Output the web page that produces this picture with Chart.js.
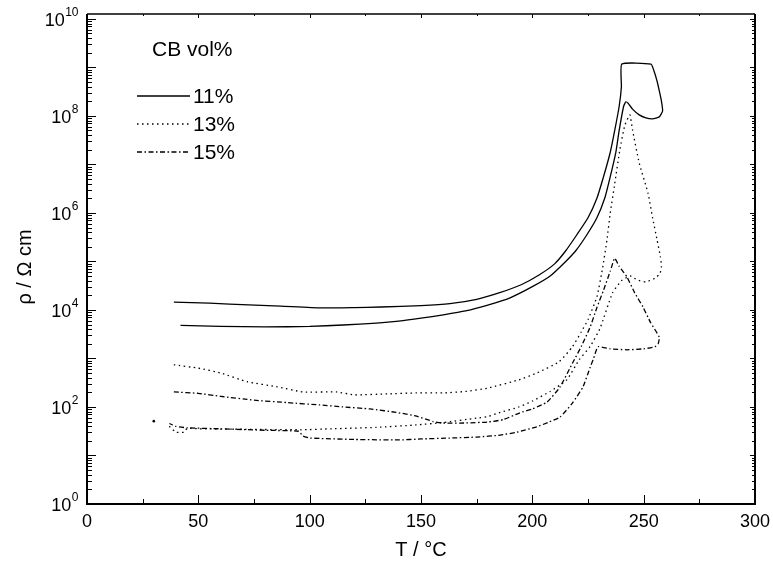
<!DOCTYPE html>
<html>
<head>
<meta charset="utf-8">
<script src="https://cdn.jsdelivr.net/npm/chart.js@4/dist/chart.umd.min.js"></script>
<style>
  body { margin: 0; background: #fff; }
  #wrap { width: 773px; height: 565px; }
</style>
</head>
<body>
<div id="wrap"><canvas id="chart" width="773" height="565"></canvas></div>
<script>
// CB 11 vol% (one loop: upper branch -> top -> hook -> lower branch)
var t11 = [39, 55, 64, 87, 105, 120, 132, 150, 163, 175, 185, 195, 203, 210, 215, 220, 225, 229, 232, 235, 237, 239, 240, 240.2,
           253.3, 254.6, 256, 257, 258, 258.5, 257, 254, 251, 248, 245, 243, 242,
           241, 239, 237.5, 235, 232.5, 229, 224.5, 219.5, 215, 208, 200, 190, 180, 170, 160, 150, 140, 130, 115, 100, 80, 60, 42];
var rho11 = [1.45e4, 1.38e4, 1.32e4, 1.2e4, 1.1e4, 1.12e4, 1.15e4, 1.23e4, 1.35e4, 1.66e4, 2.24e4, 3.31e4, 5.25e4, 8.91e4, 1.66e5, 3.55e5, 7.94e5, 2.0e6, 5.62e6, 1.78e7, 5.01e7, 1.58e8, 3.98e8, 1.17e9,
             1.17e9, 8.51e8, 5.25e8, 3.31e8, 2.0e8, 1.26e8, 9.55e7, 8.71e7, 9.12e7, 1.05e8, 1.38e8, 1.82e8, 1.95e8,
             1.58e8, 5.01e7, 1.78e7, 5.62e6, 2.0e6, 7.94e5, 3.55e5, 1.66e5, 1.0e5, 5.01e4, 3.02e4, 1.78e4, 1.26e4, 9.55e3, 7.94e3, 6.76e3, 5.89e3, 5.37e3, 4.9e3, 4.57e3, 4.47e3, 4.57e3, 4.79e3];

// CB 13 vol%
var t13 = [39, 50, 60, 72, 85, 97, 112, 120, 135, 148, 160, 170, 180, 194, 202, 212, 218, 222, 225, 229, 231.5, 233.5, 235, 237, 239.3, 241.5, 243.8,
           245, 248, 252, 254, 256, 257.5, 258, 257.3, 255, 251, 247, 244, 240, 236,
           230.4, 226, 221, 215.5, 208, 200, 194, 185, 180, 175, 160, 148, 130, 110, 96, 70, 50, 45, 43.5, 40, 37, 36];
var rho13 = [741, 631, 501, 331, 263, 204, 204, 178, 186, 195, 195, 209, 245, 363, 501, 851, 1.74e3, 3.55e3, 6.31e3, 1.86e4, 7.08e4, 2.75e5, 1.0e6, 3.98e6, 2.0e7, 6.31e7, 1.05e8,
             5.13e7, 1.07e7, 2.51e6, 7.94e5, 2.82e5, 1.26e5, 7.94e4, 5.62e4, 4.47e4, 3.8e4, 4.17e4, 5.01e4, 3.98e4, 2.24e4,
             4.17e3, 1.78e3, 933, 363, 209, 132, 100, 75.9, 63.1, 58.9, 47.9, 42.7, 38.0, 35.5, 33.9, 34.7, 35.5, 36.3, 30.2, 30.2, 39.8, 42.7];

// CB 15 vol%
var t15 = [39, 50, 60, 75, 90, 104.6, 115, 127, 140, 148, 155.5, 160, 170, 180, 187, 194.4, 200, 206.6, 212.4, 218, 222, 226, 229, 232, 235, 237,
           239, 242.5, 246, 249.7, 253, 257, 256.5, 255, 250, 242.5, 235, 229.5,
           227.5, 226, 222.7, 218, 212.4, 207, 202, 193, 185.5, 175, 163, 150, 140, 120, 100, 97, 95, 80, 60, 45, 40, 37];
var rho15 = [204, 191, 166, 138, 123, 110, 100, 91.2, 75.9, 64.6, 50.1, 46.8, 46.8, 49.0, 55.0, 75.9, 91.2, 126, 257, 794, 1.78e3, 4.47e3, 1.12e4, 2.57e4, 6.31e4, 1.17e5,
             7.94e4, 4.79e4, 2.24e4, 1.15e4, 5.62e3, 2.75e3, 2.0e3, 1.74e3, 1.58e3, 1.51e3, 1.58e3, 1.74e3,
             1.0e3, 661, 257, 120, 61.7, 47.9, 38.9, 30.2, 26.3, 24.0, 22.9, 21.9, 20.9, 21.4, 22.9, 25.1, 31.6, 33.1, 35.5, 37.2, 39.8, 45.7];

// lone point at the far left
var strayT = [30];
var strayRho = [51];

var seriesNames = ['11%', '13%', '15%'];
var xTicks = [0, 50, 100, 150, 200, 250, 300];
var yTickExp = [0, 2, 4, 6, 8, 10];

var FONT = '"Liberation Sans", Arial, Helvetica, sans-serif';
var dashes = [[], [1.5, 3.5], [5, 2.5, 1.5, 2.5]];

function pts(ts, rs) {
    return ts.map(function (t, i) { return { x: t, y: rs[i] }; });
}

var frame = {
    id: 'frame',
    afterDraw: function (chart) {
        var ctx = chart.ctx, a = chart.chartArea;
        var xs = chart.scales.x, ys = chart.scales.y;
        ctx.save();
        ctx.strokeStyle = '#000';
        ctx.fillStyle = '#000';
        ctx.setLineDash([]);

        // log ticks on left and right
        ctx.lineWidth = 1;
        for (var k = 0; k <= 10; k++) {
            var py = Math.round(ys.getPixelForValue(Math.pow(10, k))) + 0.5;
            ctx.beginPath();
            ctx.moveTo(a.left, py); ctx.lineTo(a.left + 9, py);
            ctx.moveTo(a.right, py); ctx.lineTo(a.right - 5, py);
            ctx.stroke();
            if (k == 10) continue;
            for (var m = 2; m <= 9; m++) {
                var my = Math.round(ys.getPixelForValue(m * Math.pow(10, k))) + 0.5;
                ctx.beginPath();
                ctx.moveTo(a.left, my); ctx.lineTo(a.left + 5, my);
                ctx.moveTo(a.right, my); ctx.lineTo(a.right - 3, my);
                ctx.stroke();
            }
        }

        // x ticks bottom and top
        for (var t = 0; t <= 300; t += 25) {
            var px = Math.round(xs.getPixelForValue(t)) + 0.5;
            var major = (t % 50 == 0);
            ctx.beginPath();
            ctx.moveTo(px, a.bottom); ctx.lineTo(px, a.bottom - (major ? 9 : 5));
            ctx.moveTo(px, a.top); ctx.lineTo(px, a.top + (major ? 4 : 2));
            ctx.stroke();
        }

        // frame
        ctx.lineWidth = 2;
        ctx.beginPath();
        ctx.moveTo(a.left, a.top); ctx.lineTo(a.left, a.bottom); ctx.lineTo(a.right, a.bottom); ctx.lineTo(a.right, a.top);
        ctx.stroke();
        ctx.lineWidth = 1.5;
        ctx.beginPath();
        ctx.moveTo(a.left, a.top); ctx.lineTo(a.right, a.top);
        ctx.stroke();

        // x labels
        ctx.font = '18px ' + FONT;
        ctx.textAlign = 'center';
        ctx.textBaseline = 'middle';
        xTicks.forEach(function (v) {
            ctx.fillText(String(v), xs.getPixelForValue(v), a.bottom + 18);
        });

        // y labels 10^n
        yTickExp.forEach(function (e) {
            var py = ys.getPixelForValue(Math.pow(10, e));
            ctx.font = '12px ' + FONT;
            var ew = ctx.measureText(String(e)).width;
            ctx.font = '18px ' + FONT;
            var bw = ctx.measureText('10').width;
            var x0 = 78 - ew - bw;
            ctx.textAlign = 'left';
            ctx.fillText('10', x0, py + 2);
            ctx.font = '12px ' + FONT;
            ctx.fillText(String(e), x0 + bw + 0.5, py - 6);
        });

        // axis titles
        ctx.font = '20px ' + FONT;
        ctx.textAlign = 'center';
        ctx.fillText('T / °C', 421, 550);
        ctx.save();
        ctx.translate(25, 267);
        ctx.rotate(-Math.PI / 2);
        ctx.fillText('ρ / Ω cm', 0, 0);
        ctx.restore();

        // legend in the plot
        ctx.font = '21px ' + FONT;
        ctx.textAlign = 'left';
        ctx.fillText('CB vol%', 152, 50);
        var ly = [96, 124, 152];
        seriesNames.forEach(function (n, i) {
            ctx.lineWidth = 1.3;
            ctx.setLineDash(dashes[i]);
            ctx.beginPath();
            ctx.moveTo(137, ly[i]); ctx.lineTo(190, ly[i]);
            ctx.stroke();
            ctx.setLineDash([]);
            ctx.fillText(n, 193, ly[i] + 1);
        });
        ctx.restore();
    }
};

var ctx = document.getElementById('chart').getContext('2d');
var chart = new Chart(ctx, {
    type: 'line',
    data: {
        datasets: [
            { label: seriesNames[0], data: pts(t11, rho11), borderColor: '#000', borderWidth: 1.3, borderDash: dashes[0], pointRadius: 0, tension: 0.15, fill: false },
            { label: seriesNames[1], data: pts(t13, rho13), borderColor: '#000', borderWidth: 1.3, borderDash: dashes[1], pointRadius: 0, tension: 0.15, fill: false },
            { label: seriesNames[2], data: pts(t15, rho15), borderColor: '#000', borderWidth: 1.3, borderDash: dashes[2], pointRadius: 0, tension: 0.15, fill: false },
            { label: 'stray', data: pts(strayT, strayRho), showLine: false, pointRadius: 1.3, pointBackgroundColor: '#000', borderColor: '#000', borderWidth: 0 }
        ]
    },
    options: {
        responsive: false,
        animation: false,
        devicePixelRatio: 1,
        layout: { padding: { left: 87, right: 18, top: 14, bottom: 61 } },
        plugins: { legend: { display: false }, tooltip: { enabled: false } },
        scales: {
            x: { type: 'linear', min: 0, max: 300, display: false },
            y: { type: 'logarithmic', min: 1, max: 1.26e10, display: false }
        }
    },
    plugins: [frame]
});
</script>
</body>
</html>
